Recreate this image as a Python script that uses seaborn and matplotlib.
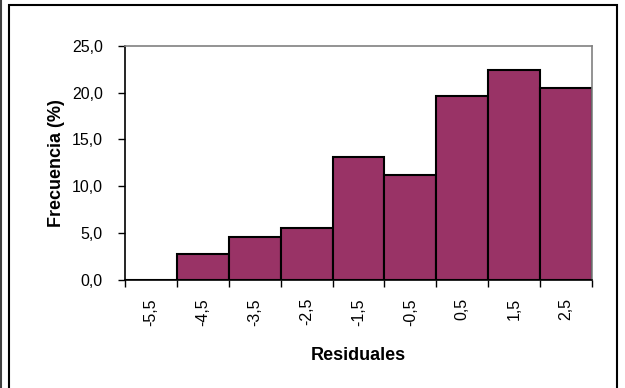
import matplotlib
matplotlib.use("Agg")
import matplotlib.pyplot as plt
import seaborn as sns
import pandas as pd
from matplotlib.patches import Rectangle
from matplotlib.lines import Line2D
from matplotlib.ticker import FuncFormatter

categories = ["-5,5", "-4,5", "-3,5", "-2,5", "-1,5", "-0,5", "0,5", "1,5", "2,5"]
frecuencia = [0.0, 2.8, 4.6, 5.6, 13.1, 11.2, 19.6, 22.4, 20.5]
y_ticks = [0, 5, 10, 15, 20, 25]

sns.set_theme(style="white")
plt.rcParams['font.family'] = ['Liberation Sans', 'DejaVu Sans']
plt.rcParams['text.color'] = 'black'
plt.rcParams['axes.labelcolor'] = 'black'
plt.rcParams['xtick.color'] = 'black'
plt.rcParams['ytick.color'] = 'black'

df = pd.DataFrame({"Residuales": categories, "Frecuencia": frecuencia})

fig = plt.figure(figsize=(6.25, 3.88), dpi=100)
ax = fig.add_axes([125/625, 1-280/388, (592-125)/625, (280-45.7)/388])

sns.barplot(data=df, x="Residuales", y="Frecuencia", order=categories,
            color="#993366", saturation=1, width=1.0,
            edgecolor="black", linewidth=1.5, ax=ax)

ax.set_xlim(-0.5, len(categories) - 0.5)
ax.set_ylim(0, 25)
ax.set_yticks(y_ticks)
ax.yaxis.set_major_formatter(FuncFormatter(lambda v, p: f"{v:.1f}".replace(".", ",")))
ax.set_xticks(range(len(categories)))
ax.set_xticklabels(categories, rotation=90, fontsize=11.5)
ax.set_xticks([i - 0.5 for i in range(len(categories) + 1)], minor=True)
ax.tick_params(axis="x", which="major", length=0, pad=13)
ax.tick_params(axis="x", which="minor", length=5, width=1, color="black", direction="out", bottom=True)
ax.tick_params(axis="y", which="major", length=5, width=1, color="black", direction="out", left=True, labelsize=11.5, pad=11)

for s in ["left", "bottom"]:
    ax.spines[s].set_color("black")
    ax.spines[s].set_linewidth(1.2)
for s in ["top", "right"]:
    ax.spines[s].set_color("#808080")
    ax.spines[s].set_linewidth(1.2)

ax.set_xlabel("Residuales", fontsize=13, fontweight="bold", labelpad=15)
ax.set_ylabel("Frecuencia (%)", fontsize=13, fontweight="bold", labelpad=5)

# outer frames
fig.patches.append(Rectangle((9/625, -0.05), (617-9)/625, 1-5/388+0.05, transform=fig.transFigure,
                             fill=False, edgecolor="black", linewidth=1.5))
fig.lines.append(Line2D([1/625, 1/625], [0, 1], transform=fig.transFigure, color="#404040", linewidth=1.5))

fig.savefig("out.png", dpi=100)
